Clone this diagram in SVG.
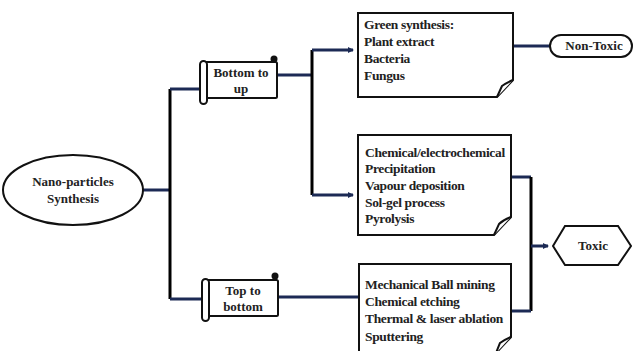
<svg xmlns="http://www.w3.org/2000/svg" width="635" height="351" viewBox="0 0 635 351">
<defs>
<marker id="arr" markerWidth="6" markerHeight="6" refX="5" refY="3" orient="auto" markerUnits="userSpaceOnUse">
<path d="M0,0 L6,3 L0,6 Z" fill="#1c2a55"/>
</marker>
<style>
.sh{fill:#fff;stroke:#111;stroke-width:2}
.t{font-family:"Liberation Serif",serif;font-weight:bold;font-size:13.5px;letter-spacing:-0.35px;fill:#222}
.tc{font-family:"Liberation Serif",serif;font-weight:bold;font-size:13px;fill:#222;text-anchor:middle}
.h{fill:none;stroke:#1c2a55;stroke-width:3}
.v{fill:none;stroke:#000;stroke-width:3}
</style>
</defs>
<rect width="635" height="351" fill="#fff"/>
<g id="connectors">
<path class="h" d="M143,190 H170"/>
<path class="v" d="M170,89 V299"/>
<path class="h" d="M170,89 H201"/>
<path class="h" d="M170,299 H203"/>
<path class="h" d="M277,75 H312"/>
<path class="v" d="M312,50 V195"/>
<path class="h" d="M312,50 H353" marker-end="url(#arr)"/>
<path class="h" d="M312,195 H353" marker-end="url(#arr)"/>
<path class="h" d="M278,297 H359"/>
<path class="h" d="M513,46 H550"/>
<path class="h" d="M511,177 H531"/>
<path class="v" d="M531,177 V311"/>
<path class="h" d="M511,311 H531"/>
<path class="h" d="M531,246 H548" marker-end="url(#arr)"/>
</g>
<g id="nano">
<ellipse class="sh" cx="73" cy="190" rx="70" ry="35"/>
<text class="tc" x="73" y="186">Nano-particles</text>
<text class="tc" x="73" y="203">Synthesis</text>
</g>
<g id="bottom-up">
<rect class="sh" x="204" y="62" width="73" height="36" rx="1.5"/>
<rect class="sh" x="200" y="61" width="7" height="43" rx="3.5"/>
<circle cx="274" cy="59" r="3.5" fill="#111"/>
<text class="tc" x="241" y="77">Bottom to</text>
<text class="tc" x="241" y="93">up</text>
</g>
<g id="top-bottom">
<rect class="sh" x="206" y="280" width="72" height="36" rx="1.5"/>
<rect class="sh" x="202" y="279" width="7" height="42" rx="3.5"/>
<circle cx="275" cy="276" r="3.5" fill="#111"/>
<text class="tc" x="243" y="295">Top to</text>
<text class="tc" x="243" y="311">bottom</text>
</g>
<g id="green">
<path class="sh" d="M358,13 H513 V80 L497,97 H358 Z"/>
<path class="sh" d="M497,97 L502,86 Q506,83 513,80" stroke-width="1.5"/>
<text class="t" x="364" y="29">Green synthesis:</text>
<text class="t" x="364" y="46">Plant extract</text>
<text class="t" x="364" y="63">Bacteria</text>
<text class="t" x="364" y="80">Fungus</text>
</g>
<g id="chemical">
<path class="sh" d="M358,135 H511 V217 L494,235 H358 Z"/>
<path class="sh" d="M494,235 L499,224 Q503,220 511,217" stroke-width="1.5"/>
<text class="t" x="365" y="157">Chemical/electrochemical</text>
<text class="t" x="365" y="173">Precipitation</text>
<text class="t" x="365" y="190">Vapour deposition</text>
<text class="t" x="365" y="207">Sol-gel process</text>
<text class="t" x="365" y="223">Pyrolysis</text>
</g>
<g id="mechanical">
<path class="sh" d="M359,264 H511 V337 L496,353 H359 Z"/>
<path class="sh" d="M496,353 L500,343 Q504,340 511,337" stroke-width="1.5"/>
<text class="t" x="365" y="289">Mechanical Ball mining</text>
<text class="t" x="365" y="306">Chemical etching</text>
<text class="t" x="365" y="323">Thermal &amp; laser ablation</text>
<text class="t" x="365" y="341">Sputtering</text>
</g>
<g id="nontoxic">
<rect class="sh" x="550" y="35" width="82" height="22" rx="11"/>
<text class="tc" x="594" y="50">Non-Toxic</text>
</g>
<g id="toxic">
<polygon class="sh" points="553,246 565,226 618,226 631,246 618,265 565,265"/>
<text class="tc" x="593" y="250">Toxic</text>
</g>
</svg>
